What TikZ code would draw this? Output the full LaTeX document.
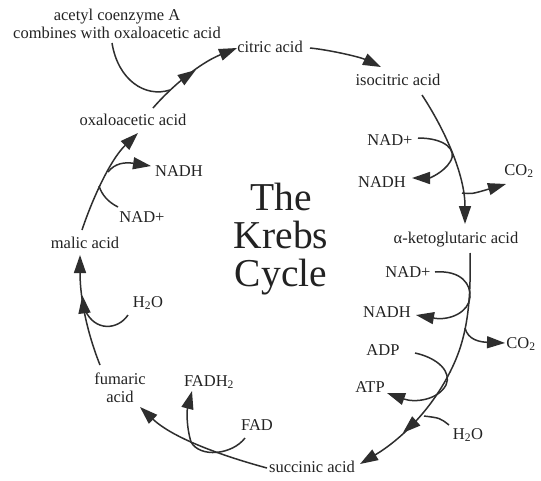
\documentclass[tikz,border=0pt]{standalone}
\usepackage{fontspec}
\setmainfont{Liberation Serif}
\usetikzlibrary{arrows.meta,decorations.markings}
\definecolor{linec}{HTML}{2E2E2E}
\definecolor{txtc}{HTML}{222222}
\begin{document}
\begin{tikzpicture}[x=1pt,y=-1pt,
  lbl/.style={font=\fontsize{16.5}{18}\selectfont, text=txtc, inner sep=0pt, anchor=base},
  conn/.style={color=linec, line width=1.5pt},
  arr/.style={conn, -{Triangle[length=18pt,width=12pt]}},
  midarr/.style={postaction={decorate}, decoration={markings, mark=at position #1 with {\arrow{Triangle[length=18pt,width=12pt]}}}}
]
\useasboundingbox (0,0) rectangle (541,480);
\fill[white] (0,0) rectangle (541,480);

% labels
\node[lbl, align=center, anchor=center] (acetyl) at (117,24) {acetyl coenzyme A\\combines with oxaloacetic acid};
\node[lbl] (citric) at (270,52) {citric acid};
\node[lbl] (isocitric) at (398,85) {isocitric acid};
\node[lbl] (nadA) at (390,145) {NAD+};
\node[lbl] (nadhA) at (382,187) {NADH};
\node[lbl] (co2A) at (519,175) {CO\textsubscript{2}};
\node[lbl] (akg) at (456,243) {α-ketoglutaric acid};
\node[lbl] (nadB) at (408,277) {NAD+};
\node[lbl] (nadhB) at (387,317) {NADH};
\node[lbl] (co2B) at (521,348) {CO\textsubscript{2}};
\node[lbl] (adp) at (383,355) {ADP};
\node[lbl] (atp) at (370,392) {ATP};
\node[lbl] (h2oA) at (468,439) {H\textsubscript{2}O};
\node[lbl] (succinic) at (312,472) {succinic acid};
\node[lbl] (fad) at (257,430) {FAD};
\node[lbl] (fadh) at (209,386) {FADH\textsubscript{2}};
\node[lbl, align=center, anchor=center] (fumaric) at (120,388) {fumaric\\acid};
\node[lbl] (h2oB) at (148,307) {H\textsubscript{2}O};
\node[lbl] (malic) at (85,248) {malic acid};
\node[lbl] (nadC) at (142,222) {NAD+};
\node[lbl] (nadhC) at (179,176) {NADH};
\node[lbl] (oxa) at (133,125) {oxaloacetic acid};
\node[font=\fontsize{39.5}{38}\selectfont, text=txtc, align=center, inner sep=0pt] (title) at (281,239) {The\\Krebs\\Cycle};

% connector end points
\coordinate (oxaOut) at (153,108);
\coordinate (citIn) at (237,48);
\coordinate (acetylOut) at (112,43);
\coordinate (acetylJoin) at (170,90);
\coordinate (citOut) at (310,48);
\coordinate (isoIn) at (381,67);
\coordinate (isoOut) at (422,95);
\coordinate (akgIn) at (465,224);
\coordinate (nadAOut) at (418,138);
\coordinate (nadhAIn) at (412,178);
\coordinate (co2AJoin) at (462,193);
\coordinate (co2AIn) at (506,184);
\coordinate (akgOut) at (470,253);
\coordinate (akgMid) at (452,368);
\coordinate (succIn) at (360,464);
\coordinate (nadBOut) at (435,272);
\coordinate (nadBTurn) at (470,297);
\coordinate (nadhBIn) at (416,315);
\coordinate (co2BJoin) at (465,328);
\coordinate (co2BIn) at (505,343);
\coordinate (adpOut) at (415,353);
\coordinate (adpTurn) at (446,385);
\coordinate (atpIn) at (387,393);
\coordinate (h2oAOut) at (449,425);
\coordinate (h2oAJoin) at (424,416);
\coordinate (succOut) at (267,468);
\coordinate (fumIn) at (140,407);
\coordinate (fadOut) at (245,438);
\coordinate (fadTurn) at (191,442);
\coordinate (fadhIn) at (192,391);
\coordinate (fumOut) at (100,365);
\coordinate (malIn) at (80,255);
\coordinate (h2oBOut) at (128,315);
\coordinate (h2oBJoin) at (85,310);
\coordinate (malOut) at (82,230);
\coordinate (oxaIn) at (138,133);
\coordinate (nadhCJoin) at (108,172);
\coordinate (nadhCIn) at (151,166);
\coordinate (nadCOut) at (118,207);
\coordinate (nadCJoin) at (99,186);

% oxaloacetic acid -> citric acid
\draw[arr, midarr=0.55] (oxaOut) .. controls (172,86) and (200,63) .. (citIn);
\draw[conn] (acetylOut) .. controls (118,80) and (145,98) .. (acetylJoin);
% citric -> isocitric
\draw[arr] (citOut) .. controls (330,50) and (360,57) .. (isoIn);
% isocitric -> alpha-ketoglutaric
\draw[arr] (isoOut) .. controls (445,130) and (465,175) .. (akgIn);
\draw[arr] (nadAOut) .. controls (445,138) and (458,150) .. (450,162) .. controls (444,172) and (430,178) .. (nadhAIn);
\draw[arr] (co2AJoin) .. controls (472,194) .. (co2AIn);
% alpha-ketoglutaric -> succinic
\draw[arr, midarr=0.79] (akgOut) .. controls (471,300) and (468,335) .. (akgMid) .. controls (432,410) and (400,440) .. (succIn);
\draw[arr] (nadBOut) .. controls (462,270) and (471,285) .. (nadBTurn) .. controls (469,312) and (450,321) .. (nadhBIn);
\draw[arr] (co2BJoin) .. controls (468,340) and (480,342) .. (co2BIn);
\draw[arr] (adpOut) .. controls (438,358) and (452,372) .. (adpTurn) .. controls (438,400) and (415,403) .. (atpIn);
\draw[conn] (h2oAOut) .. controls (440,418) .. (h2oAJoin);
% succinic -> fumaric
\draw[arr] (succOut) .. controls (230,458) and (175,440) .. (fumIn);
\draw[arr] (fadOut) .. controls (232,455) and (200,458) .. (fadTurn) .. controls (186,425) and (187,410) .. (fadhIn);
% fumaric -> malic
\draw[arr, midarr=0.64] (fumOut) .. controls (88,335) and (80,300) .. (malIn);
\draw[conn] (h2oBOut) .. controls (118,330) and (95,332) .. (h2oBJoin);
% malic -> oxaloacetic
\draw[arr] (malOut) .. controls (92,200) and (110,160) .. (oxaIn);
\draw[arr] (nadhCJoin) .. controls (115,163) and (125,162) .. (nadhCIn);
\draw[conn] (nadCOut) .. controls (108,202) and (102,195) .. (nadCJoin);
\end{tikzpicture}
\end{document}
